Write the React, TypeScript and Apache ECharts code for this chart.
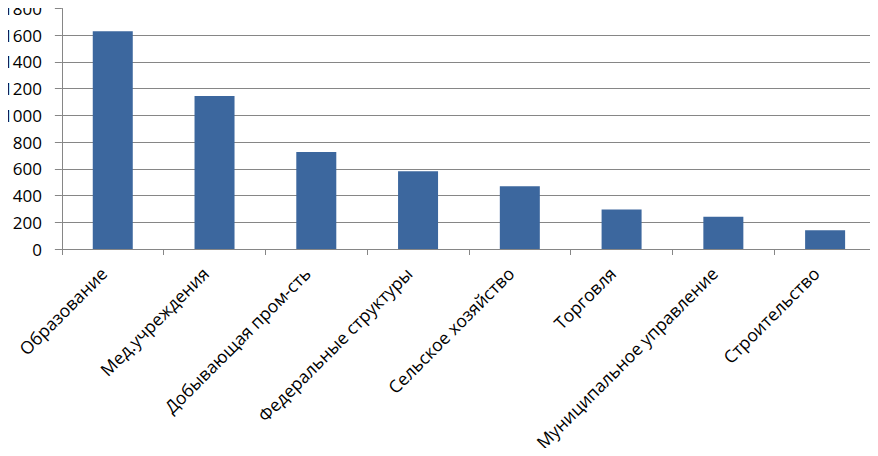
import React, { useEffect, useRef } from "react";
import * as echarts from "echarts";

const categories = [
  "Образование",
  "Мед.учреждения",
  "Добывающая пром-сть",
  "Федеральные структуры",
  "Сельское хозяйство",
  "Торговля",
  "Муниципальное управление",
  "Строительство",
];
const values = [1630, 1145, 726, 582, 469, 296, 241, 141];
const yMin = 0;
const yMax = 1800;
const yStep = 200;

export default function App() {
  const ref = useRef<HTMLDivElement>(null);
  useEffect(() => {
    if (!ref.current) return;
    const chart = echarts.init(ref.current, null, { renderer: "svg" });
    const font = "'Open Sans', 'Liberation Sans', sans-serif";
    chart.setOption({
      animation: false,
      grid: { left: 60, right: 2, top: 6, bottom: 207, containLabel: false },
      xAxis: {
        type: "category",
        data: categories,
        axisLine: { lineStyle: { color: "#868686", width: 1 } },
        axisTick: { show: true, length: 6, alignWithLabel: false, lineStyle: { color: "#868686" } },
        axisLabel: {
          rotate: 45,
          interval: 0,
          margin: 12,
          padding: [0, 13, 0, 0],
          color: "#000",
          fontSize: 17.5,
          fontFamily: font,
        },
        splitLine: { show: false },
      },
      yAxis: {
        type: "value",
        min: yMin,
        max: yMax,
        interval: yStep,
        axisLine: { show: true, lineStyle: { color: "#868686", width: 1 } },
        axisTick: { show: true, length: 7, lineStyle: { color: "#868686" } },
        axisLabel: {
          margin: 20,
          color: "#000",
          fontSize: 17,
          fontFamily: font,
          formatter: (v: number) => String(v),
        },
        splitLine: {
          show: true,
          showMaxLine: false,
          lineStyle: { color: "#868686", width: 1 },
        },
      },
      series: [
        {
          type: "bar",
          data: values,
          barWidth: 40,
          itemStyle: { color: "#3C679E" },
        },
      ],
    });
    return () => chart.dispose();
  }, []);
  return <div ref={ref} style={{ width: 878, height: 456, margin: -8 }} />;
}
